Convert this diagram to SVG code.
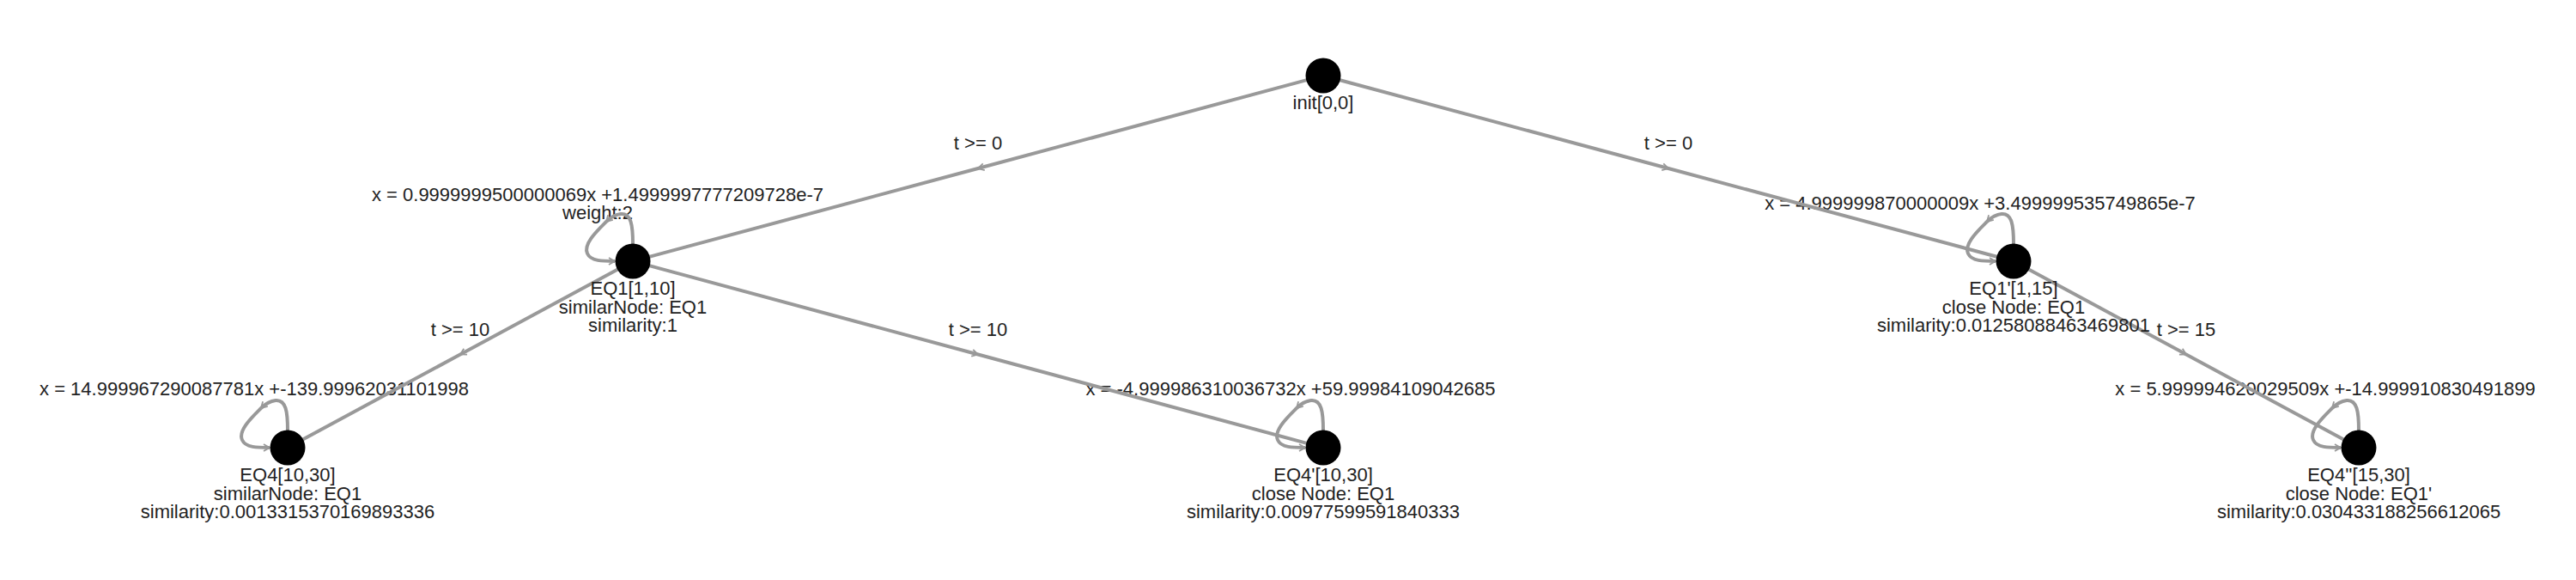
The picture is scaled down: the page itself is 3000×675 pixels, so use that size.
<svg xmlns="http://www.w3.org/2000/svg" width="3000" height="675" viewBox="0 0 3000 675">
<style>
text{font-family:"Liberation Sans",Arial,sans-serif;font-size:22px;fill:#222;text-anchor:middle}
.e{fill:none;stroke:#999;stroke-width:4}
.m{marker-mid:url(#arr)}
.l{marker-end:url(#arr)}
.n{fill:#000}
</style>
<defs>
<marker id="arr" markerUnits="userSpaceOnUse" markerWidth="20" markerHeight="20" refX="0" refY="0" viewBox="-10 -10 20 20" orient="auto" overflow="visible">
<path d="M-7,-4 L0,0 L-7,4" fill="none" stroke="#999" stroke-width="1.8"/>
</marker>
<g id="loop">
<path class="e l" d="M0,-20 C0,-42 -2,-56 -14,-55 C-22,-54 -27,-50 -31,-46"/>
<path class="e l" d="M-31,-46 C-42,-35 -58,-20 -53,-9 C-49,0 -35,0 -21,0"/>
</g>
</defs>
<g id="connectors">
<g id="loop-labels">
<text x="696" y="234">x = 0.9999999500000069x +1.4999997777209728e-7</text>
<text x="696" y="255">weight:2</text>
<text x="2306" y="244">x = 4.999999870000009x +3.499999535749865e-7</text>
<text x="296" y="460">x = 14.999967290087781x +-139.99962031101998</text>
<text x="1503" y="460">x = -4.999986310036732x +59.99984109042685</text>
<text x="2708" y="460">x = 5.999994620029509x +-14.999910830491899</text>
</g>
<path id="e-init-eq1" class="e m" d="M1541,88 L1139,196 L737,304"/>
<path id="e-init-eq1p" class="e m" d="M1541,88 L1943,196 L2345,304"/>
<path id="e-eq1-eq4" class="e m" d="M737,304 L536,412.5 L335,521"/>
<path id="e-eq1-eq4p" class="e m" d="M737,304 L1139,412.5 L1541,521"/>
<path id="e-eq1p-eq4pp" class="e m" d="M2345,304 L2546,412.5 L2747,521"/>
<use href="#loop" x="737" y="304"/>
<use href="#loop" x="2345" y="304"/>
<use href="#loop" x="335" y="521"/>
<use href="#loop" x="1541" y="521"/>
<use href="#loop" x="2747" y="521"/>
<text x="1139" y="174">t &gt;= 0</text>
<text x="1943" y="174">t &gt;= 0</text>
<text x="536" y="391">t &gt;= 10</text>
<text x="1139" y="391">t &gt;= 10</text>
<text x="2546" y="391">t &gt;= 15</text>
</g>
<g id="node-init">
<circle class="n" cx="1541" cy="88" r="20.5"/>
<text x="1541" y="127">init[0,0]</text>
</g>
<g id="node-EQ1">
<circle class="n" cx="737" cy="304" r="20.5"/>
<text x="737" y="343">EQ1[1,10]</text>
<text x="737" y="364.5">similarNode: EQ1</text>
<text x="737" y="386">similarity:1</text>
</g>
<g id="node-EQ1p">
<circle class="n" cx="2345" cy="304" r="20.5"/>
<text x="2345" y="343">EQ1'[1,15]</text>
<text x="2345" y="364.5">close Node: EQ1</text>
<text x="2345" y="386">similarity:0.01258088463469801</text>
</g>
<g id="node-EQ4">
<circle class="n" cx="335" cy="521" r="20.5"/>
<text x="335" y="560">EQ4[10,30]</text>
<text x="335" y="581.5">similarNode: EQ1</text>
<text x="335" y="603">similarity:0.0013315370169893336</text>
</g>
<g id="node-EQ4p">
<circle class="n" cx="1541" cy="521" r="20.5"/>
<text x="1541" y="560">EQ4'[10,30]</text>
<text x="1541" y="581.5">close Node: EQ1</text>
<text x="1541" y="603">similarity:0.00977599591840333</text>
</g>
<g id="node-EQ4pp">
<circle class="n" cx="2747" cy="521" r="20.5"/>
<text x="2747" y="560">EQ4''[15,30]</text>
<text x="2747" y="581.5">close Node: EQ1'</text>
<text x="2747" y="603">similarity:0.030433188256612065</text>
</g>
</svg>
